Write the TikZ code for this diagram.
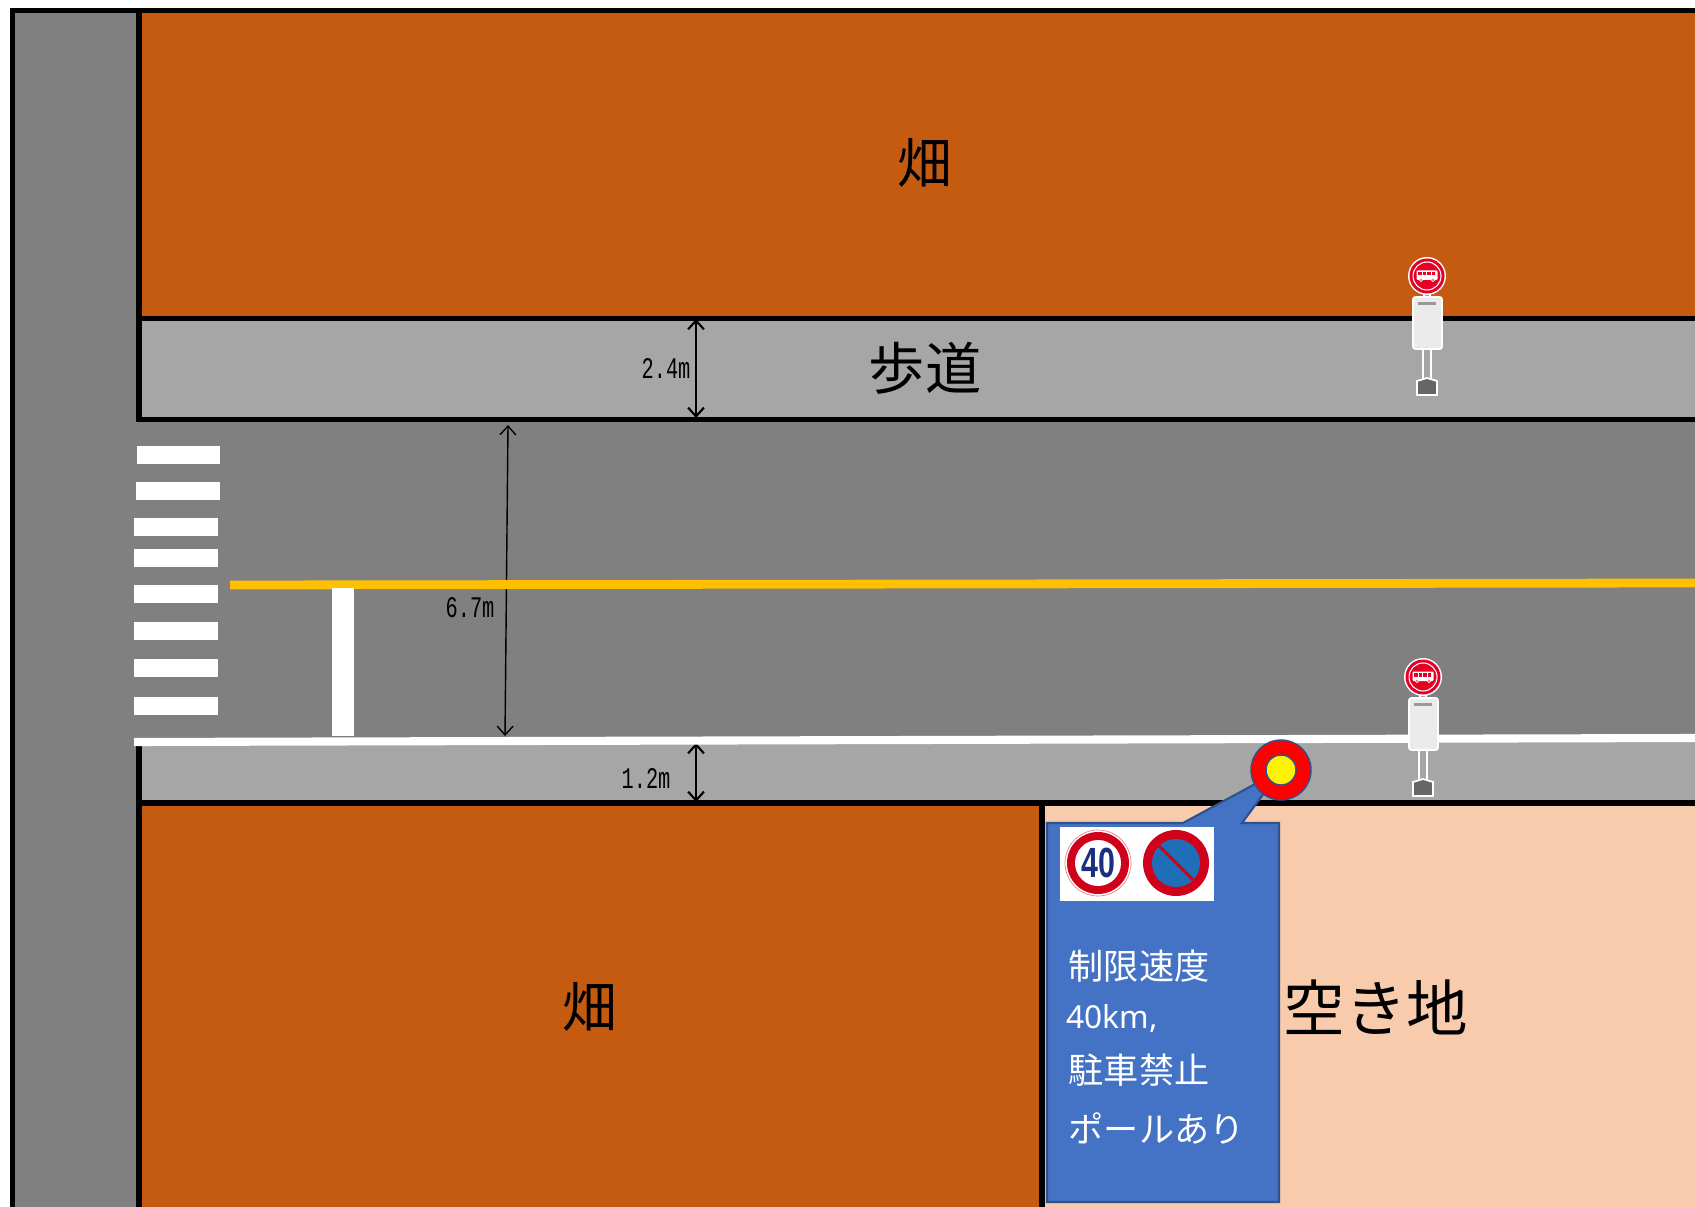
\documentclass[tikz,border=0pt]{standalone}
\usepackage{fontspec}
\usetikzlibrary{arrows.meta}
\newfontfamily\cjk{Noto Sans CJK JP}
\newfontfamily\dimfont[FakeStretch=0.68]{Liberation Mono}
\newfontfamily\signfont[FakeStretch=0.72]{Liberation Sans}
\newfontfamily\notefont{Noto Sans}
\definecolor{fieldcol}{HTML}{C55A11}
\definecolor{roadcol}{HTML}{808080}
\definecolor{walkcol}{HTML}{A6A6A6}
\definecolor{lotcol}{HTML}{F7CBAC}
\definecolor{centercol}{HTML}{FFC000}
\definecolor{notecol}{HTML}{4472C4}
\definecolor{noteedge}{HTML}{2F528F}
\definecolor{busred}{HTML}{E60026}
\definecolor{signred}{HTML}{D0021B}
\definecolor{signblue}{HTML}{1E6FB8}
\definecolor{signnavy}{HTML}{1A2F80}
\tikzset{
  kerb/.style={line width=1.6pt,line cap=rect},
  bigtext/.style={font=\cjk\fontsize{15.5}{15.5}\selectfont},
  lottext/.style={font=\cjk\fontsize{17.5}{17.5}\selectfont},
  notetext/.style={anchor=west,inner sep=0pt,text=white,font=\cjk\fontsize{10}{10}\selectfont},
  dimtext/.style={inner sep=0pt,font=\dimfont\fontsize{8.5}{8.5}\selectfont},
  stripe/.style={fill=white},
  dimline/.style={<->,line width=0.6pt},
}
\newcommand{\drawStripe}[3]{% left, right, top
  \fill[stripe] (#1,#3) rectangle (#2,#3+18);
}
\newcommand{\drawBusStop}[2]{% center of the round plate: x,y
  \begin{scope}[shift={(#1,#2)}]
  \draw[white,fill=walkcol,line width=0.4pt] (-3,16) rectangle (3,23);
  \draw[white,fill=walkcol,line width=0.5pt] (-4,73) rectangle (4,104);
  \draw[white,fill=black!8,line width=0.5pt,rounded corners=0.7pt] (-14,21) rectangle (15,73);
  \fill[gray!80] (-9,26) rectangle (9,29);
  \draw[white,fill=black!60,line width=0.5pt] (-10,105) -- (0,102) -- (10,105) -- (10,119) -- (-10,119) -- cycle;
  \fill[white] (0,0) circle (19);
  \fill[busred] (0,0) circle (17.5);
  \draw[white,line width=0.3pt] (0,0) circle (14);
  \fill[white,rounded corners=0.3pt] (-10.5,-5.5) rectangle (10.5,4);
  \foreach \wx in {-9,-4.5,0,4.5} {
    \fill[busred] (\wx,-4) rectangle (\wx+3.5,-0.5);
  }
  \draw[white,fill=busred,line width=0.2pt] (-6,4) circle (1.6);
  \draw[white,fill=busred,line width=0.2pt] (6,4) circle (1.6);
  \end{scope}
}
\begin{document}
\begin{tikzpicture}[x=0.01cm,y=-0.01cm,>={Straight Barb[length=2.5pt,width=4.5pt]}]
\useasboundingbox (0,0) rectangle (1695,1207);

% Ground
\fill[white] (0,0) rectangle (1695,1207);
\fill[roadcol] (15,13) rectangle (1695,1207);
\fill[fieldcol] (139,13) rectangle (1695,319);
\fill[walkcol] (139,319) rectangle (1695,420);
\fill[walkcol] (139,742) rectangle (1695,803);
\fill[fieldcol] (139,803) rectangle (1042,1207);
\fill[lotcol] (1042,803) rectangle (1695,1207);

% Outer frame and kerbs
\draw[kerb] (12.5,1207) -- (12.5,10.5) -- (1695,10.5);
\draw[kerb] (139,13) -- (139,419.5);
\draw[kerb] (139,318.5) -- (1695,318.5);
\draw[kerb] (139,419.5) -- (1695,419.5);
\draw[kerb] (139,746) -- (139,1207);
\draw[kerb] (139,803) -- (1695,803);
\draw[kerb] (1042,803) -- (1042,1207);

% Crossing
\drawStripe{137}{220}{446}
\drawStripe{136}{220}{482}
\drawStripe{134}{218}{518}
\drawStripe{134}{218}{549}
\drawStripe{134}{218}{585}
\drawStripe{134}{218}{622}
\drawStripe{134}{218}{659}
\drawStripe{134}{218}{697}

% Widths
\coordinate (walktop) at (696,319);
\coordinate (walkbot) at (696,418);
\coordinate (roadtop) at (508,425);
\coordinate (roadbot) at (505,736);
\coordinate (kerbtop) at (696,743);
\coordinate (kerbbot) at (696,802);
\draw[dimline] (walktop) -- (walkbot);
\draw[dimline,line width=0.4pt] (roadtop) -- (roadbot);
\draw[dimline] (kerbtop) -- (kerbbot);
\node[dimtext] (walkwidth) at (666,369) {2.4m};
\node[dimtext] (roadwidth) at (470,608) {6.7m};
\node[dimtext] (kerbwidth) at (646,779) {1.2m};

% Road markings
\draw[centercol,line width=2.5pt] (230,585) -- (1695,583);
\fill[white] (332,588) rectangle (354,736);
\draw[white,line width=2.3pt] (134,742) -- (1695,738);

% Labels
\node[bigtext] (fieldnorth) at (925,163) {畑};
\node[bigtext,font=\cjk\fontsize{16}{16}\selectfont] (walkname) at (925,368) {歩道};
\node[bigtext] (fieldsouth) at (590,1007) {畑};
\node[lottext] (lotname) at (1376,1007) {空き地};

% Bus stops
\drawBusStop{1427}{276}
\drawBusStop{1423}{677}

% Note
\draw[noteedge,fill=notecol,line width=0.6pt] (1047,823) -- (1183,823) -- (1281,770) -- (1242,823) -- (1279,823) -- (1279,1202) -- (1047,1202) -- cycle;
\fill[white] (1060,827) rectangle (1214,901);

% Pole
\draw[noteedge,fill=red,line width=0.4pt] (1281,770) circle (30);
\draw[noteedge,fill=yellow,line width=0.4pt] (1281,770) circle (15);

% Signs
\draw[signred!50,line width=0.2pt] (1098,863) circle (33);
\fill[signred] (1098,863) circle (31);
\fill[white] (1098,863) circle (23);
\node[inner sep=0pt,text=signnavy,font=\signfont\bfseries\fontsize{12}{12}\selectfont] (speedsign) at (1098,863) {40};
\fill[signred] (1176,863) circle (33);
\fill[signblue] (1176,863) circle (24);
\draw[signred,line width=0.9pt] (1159,846) -- (1193,880);

% Note text
\node[notetext] (speedname) at (1068,966) {制限速度};
\node[notetext,font=\notefont\fontsize{9}{9}\selectfont] (speedvalue) at (1066,1019) {40km,};
\node[notetext] (parkname) at (1068,1070) {駐車禁止};
\node[notetext] (polename) at (1068,1128) {ポールあり};

\end{tikzpicture}
\end{document}
